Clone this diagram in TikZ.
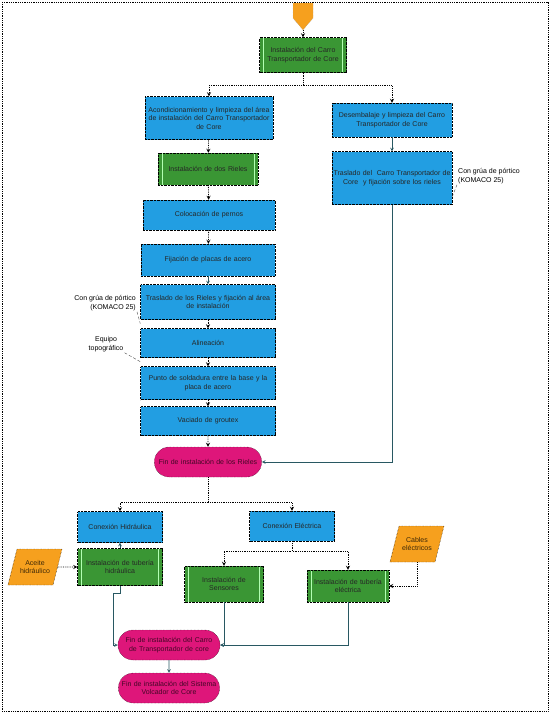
\documentclass[tikz,border=0pt]{standalone}
\usepackage{fontspec}
\setmainfont{Liberation Sans}
\usetikzlibrary{positioning, arrows, shapes.geometric, shapes.misc}

\definecolor{cblue}{RGB}{34,158,226}
\definecolor{cgreen}{RGB}{58,150,52}
\definecolor{cpink}{RGB}{222,22,122}
\definecolor{corange}{RGB}{246,160,30}
\definecolor{cline}{RGB}{40,88,98}

\hyphenpenalty=10000
\exhyphenpenalty=10000

\tikzset{
    sz/.style 2 args={minimum width=#1pt, minimum height=#2pt, text width=\dimexpr#1pt-2pt\relax},
    box/.style={draw, densely dotted, inner xsep=1pt, inner ysep=1pt, align=center, text=black!85, font=\fontsize{7}{8.5}\selectfont},
    bluebox/.style={box, fill=cblue},
    greenbox/.style={box, fill=cgreen, path picture={
        \draw[solid, green!30!white, thick] ([xshift=4pt]path picture bounding box.north west) -- ([xshift=4pt]path picture bounding box.south west);
        \draw[solid, green!30!white, thick] ([xshift=-4pt]path picture bounding box.north east) -- ([xshift=-4pt]path picture bounding box.south east);}},
    endbox/.style={box, fill=cpink, rounded rectangle, text=black!70!cpink},
    databox/.style={box, fill=corange, trapezium, trapezium left angle=60, trapezium right angle=120, trapezium stretches body, text=black!75!corange},
    note/.style={font=\fontsize{7}{8.5}\selectfont, inner sep=1pt},
    dot/.style={->, >=stealth, densely dotted, thick, black},
    flow/.style={->, >=stealth, cline, semithick},
}

\begin{document}
\begin{tikzpicture}[x=1pt, y=-1pt]
    \useasboundingbox (0, 0) rectangle (550, 713);
    \draw [densely dotted, thick] (2, 2) rectangle (548, 711);

    % inicio
    \fill [corange, draw=black!40, densely dotted] (293, 3) -- (313, 3) -- (313, 18) -- (303, 30) -- (293, 18) -- cycle;
    \coordinate (start) at (303, 30);

    \node (carro) [greenbox, sz={87}{35}] at (303, 55) {Instalación del Carro\\Transportador de Core};
    \node (acond) [bluebox, sz={128}{43}] at (209, 118) {Acondicionamiento y limpieza del área\\de instalación del Carro Transportador\\de Core};
    \node (desemb) [bluebox, sz={120}{34}] at (392, 120) {Desembalaje y limpieza del Carro\\Transportador de Core};
    \node (rieles) [greenbox, sz={100}{32}] at (208, 169) {Instalación de dos Rieles};
    \node (trascarro) [bluebox, sz={120}{53}] at (392, 178) {Traslado del \ Carro Transportador de\\Core \ y fijación sobre los rieles};
    \node (pernos) [bluebox, sz={132}{30}] at (209, 215) {Colocación de pernos};
    \node (placas) [bluebox, sz={134}{32}] at (208, 260) {Fijación de placas de acero};
    \node (trasriel) [bluebox, sz={135}{35}] at (208, 302) {Traslado de los Rieles y fijación al área\\de instalación};
    \node (alin) [bluebox, sz={135}{29}] at (208, 343) {Alineación};
    \node (sold) [bluebox, sz={135}{33}] at (208, 383) {Punto de soldadura entre la base y la\\placa de acero};
    \node (vaciado) [bluebox, sz={135}{29}] at (208, 421) {Vaciado de groutex};
    \node (finriel) [endbox, sz={107}{30}] at (208, 462) {Fin de instalación de los Rieles};

    \node (hidr) [bluebox, sz={85}{31}] at (120, 527) {Conexión Hidráulica};
    \node (elec) [bluebox, sz={85}{30}] at (292, 526) {Conexión Eléctrica};
    \node (tubhidr) [greenbox, sz={85}{37}] at (120, 567) {Instalación de tubería\\hidráulica};
    \node (aceite) [databox, minimum width=45pt, minimum height=36pt, text width=34pt] at (35, 567) {Aceite\\hidráulico};
    \node (sensores) [greenbox, sz={79}{36}] at (224, 584) {Instalación de\\Sensores};
    \node (tubelec) [greenbox, sz={82}{32}] at (348, 586) {Instalación de tubería\\eléctrica};
    \node (cables) [databox, minimum width=44pt, minimum height=36pt, text width=34pt] at (417, 544) {Cables\\eléctricos};
    \node (fincarro) [endbox, sz={98}{30}] at (169, 645) {Fin de instalación del Carro\\de Transportador de core};
    \node (finsist) [endbox, sz={98}{30}] at (169, 688) {Fin de instalación del Sistema\\Volcador de Core};

    % notas
    \node (grua1) [note, align=left, anchor=west] at (457, 176) {Con grúa de pórtico\\(KOMACO 25)};
    \node (grua2) [note, align=right, anchor=east] at (137, 303) {Con grúa de pórtico\\(KOMACO 25)};
    \node (topo) [note, align=center] at (106, 344) {Equipo\\topográfico};
    \draw [black!70, densely dashed] (grua1.south west) -- ([yshift=8pt]trascarro.south east);
    \draw [black!70, densely dashed] (grua2.south east) -- ([yshift=-4pt]trasriel.south west);
    \draw [black!70, densely dashed] (topo.south east) -- ([yshift=-4pt]alin.south west);

    % conectores
    \draw [dot] (start) -- (carro);
    \draw [dot] (carro.south) -- ++(0, 13) -| (acond.north);
    \draw [dot] (carro.south) -- ++(0, 13) -| (desemb.north);
    \draw [dot] (acond) -- (rieles);
    \draw [dot] (rieles) -- (pernos);
    \draw [dot] (pernos) -- (placas);
    \draw [flow] (placas) -- (trasriel);
    \draw [dot] (trasriel) -- (alin);
    \draw [dot] (alin) -- (sold);
    \draw [dot] (sold) -- (vaciado);
    \draw [dot] (vaciado) -- (finriel);
    \draw [flow] (desemb) -- (trascarro);
    \draw [flow] (trascarro.south) |- (finriel.east);

    \draw [dot] (finriel.south) -- ++(0, 25) -| (hidr.north);
    \draw [dot] (finriel.south) -- ++(0, 25) -| (elec.north);
    \draw [flow] (tubhidr) -- (hidr);
    \draw [dot] (aceite.east) -- (tubhidr.west);
    \draw [dot] (elec.south) -- ++(0, 10) -| (sensores.north);
    \draw [dot] (elec.south) -- ++(0, 10) -| (tubelec.north);
    \draw [dot] (cables.south) |- (tubelec.east);

    \draw [flow] (tubhidr.south) -- ++(0, 8) -- ++(-7, 0) |- (fincarro.west);
    \draw [flow] (sensores.south) |- (fincarro.east);
    \draw [flow] (tubelec.south) |- (fincarro.east);
    \draw [flow] (fincarro) -- (finsist);
\end{tikzpicture}
\end{document}
